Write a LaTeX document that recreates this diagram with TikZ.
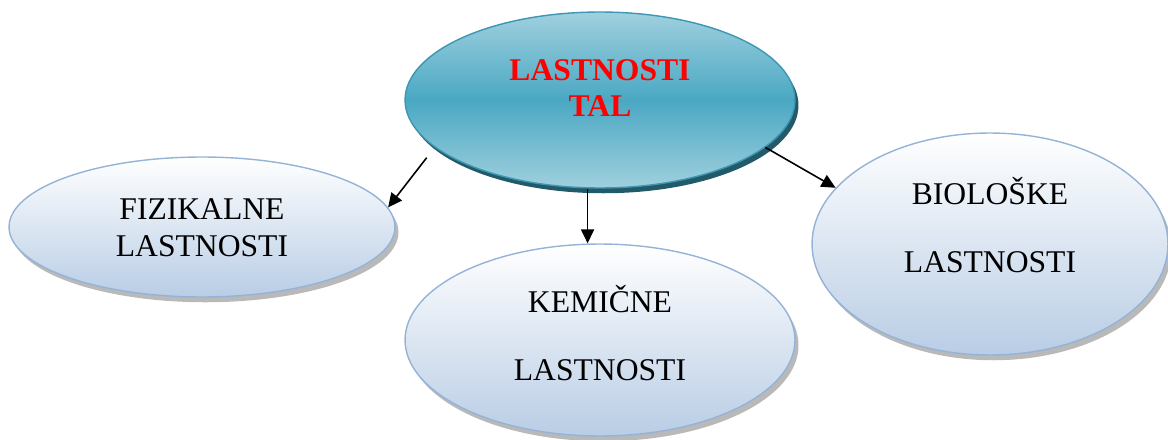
\documentclass[tikz,border=0pt]{standalone}
\usepackage{fontspec}
\setmainfont{Liberation Serif}
\usepackage{tikz}
\usetikzlibrary{shapes.geometric, arrows.meta, shadows}
\definecolor{talteal}{RGB}{74,168,195}
\definecolor{tallight}{RGB}{160,208,222}
\definecolor{taledge}{RGB}{60,150,180}
\definecolor{talshade}{RGB}{35,90,105}
\definecolor{bubedge}{RGB}{149,179,215}
\definecolor{bubfill}{RGB}{185,205,229}
\definecolor{titlered}{RGB}{255,0,0}

\tikzset{
  topbub/.style={ellipse, draw=taledge, line width=0.8pt,
    top color=tallight, bottom color=tallight, middle color=talteal,
    drop shadow={shadow xshift=2pt, shadow yshift=-3pt, fill=talshade, opacity=1},
    minimum width=7.8cm, minimum height=3.52cm, inner sep=0pt},
  subbub/.style={ellipse, draw=bubedge, line width=0.8pt,
    top color=white, bottom color=bubfill,
    drop shadow={shadow xshift=2pt, shadow yshift=-3pt, fill=gray!55, opacity=1},
    inner sep=0pt},
  bubtxt/.style={align=center, font=\fontsize{18}{21}\selectfont},
  arr/.style={line width=0.9pt, -{Triangle[length=8pt, width=7.5pt]}}
}

\begin{document}
\begin{tikzpicture}[x=0.02cm, y=-0.02cm]
  \useasboundingbox (0,0) rectangle (1168,439);
  % bubbles
  \node[topbub] (tal) at (600,100) {};
  \node[subbub, minimum width=7.72cm, minimum height=2.8cm] (fiz) at (202,227) {};
  \node[subbub, minimum width=7.8cm, minimum height=3.84cm] (kem) at (600,340) {};
  \node[subbub, minimum width=7.12cm, minimum height=4.44cm] (bio) at (990,244) {};
  % texts
  \node[bubtxt, text=titlered, font=\fontsize{18}{21}\selectfont\bfseries] (taltxt) at (600,88) {LASTNOSTI\\TAL};
  \node[bubtxt] (fiztxt) at (202,228) {FIZIKALNE\\LASTNOSTI};
  \node[bubtxt] (kemtxt) at (600,333) {KEMIČNE\\[17.7pt]LASTNOSTI};
  \node[bubtxt] (biotxt) at (990,225) {BIOLOŠKE\\[17.7pt]LASTNOSTI};
  % arrows
  \draw[arr, shorten <=0.26cm] (tal.196) -- (fiz.6);
  \draw[arr] (tal.262) -- (tal.262 |- kem.north);
  \draw[arr] (tal.344) -- (bio.160);
\end{tikzpicture}
\end{document}
